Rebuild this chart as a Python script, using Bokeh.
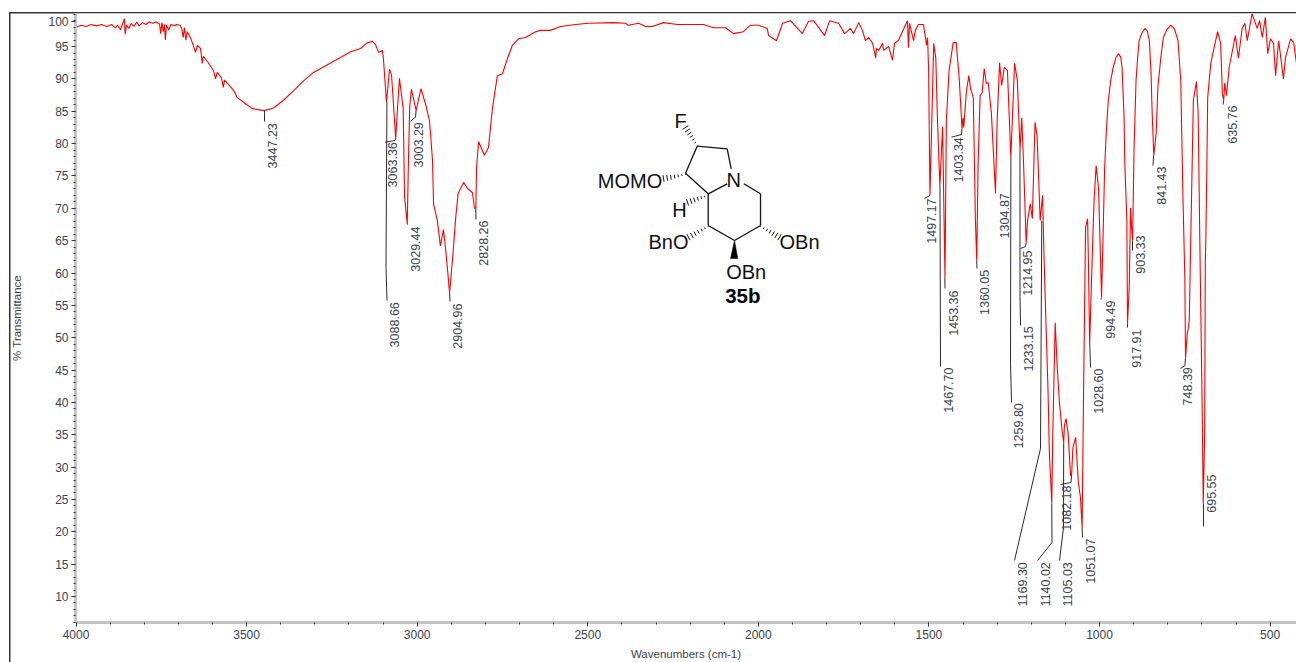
from bokeh.plotting import figure
from bokeh.embed import file_html
from bokeh.resources import INLINE
from bokeh.core.properties import value
from bokeh.models import Range1d, FixedTicker

wavenumber = [
 4000,3985,3970,3955,3940,3925,3910,3895,3885,3878,3870,3865,3858,3856,3852,3845,3838,3830,3822,3815,
 3805,3795,3785,3775,3765,3755,3752,3748,3744,3741,3738,3735,3728,3722,3712,3705,3695,3690,3686,3682,
 3678,3674,3665,3659,3650,3644,3635,3630,3627,3612,3597,3591,3586,3574,3568,3565,3547,3538,3527,3509,
 3483,3449,3421,3392,3362,3333,3304,3263,3225,3195,3166,3146,3131,3122,3113,3102,3099,3090,3081,3075,
 3063,3052,3041,3037,3029,3026,3022,3017,3003,2989,2976,2964,2955,2952,2941,2932,2923,2917,2905,2895,
 2887,2880,2864,2853,2838,2832,2828,2826,2820,2803,2791,2779,2765,2750,2735,2721,2703,2683,2653,2639,
 2609,2580,2536,2498,2425,2390,2381,2351,2331,2311,2278,2237,2205,2161,2132,2096,2073,2044,2023,2000,
 1974,1970,1947,1929,1906,1871,1853,1838,1806,1791,1765,1747,1730,1721,1706,1695,1686,1677,1665,1656,
 1654,1647,1636,1633,1618,1607,1601,1590,1563,1560,1557,1545,1540,1531,1516,1507,1504,1501,1497,1486,
 1480,1475,1468,1460,1453,1449,1441,1429,1420,1411,1403,1400,1398,1390,1383,1378,1370,1364,1360,1356,
 1350,1344,1338,1332,1326,1317,1305,1300,1293,1287,1279,1270,1260,1249,1241,1233,1228,1223,1215,1211,
 1203,1197,1189,1183,1174,1167,1163,1157,1151,1147,1140,1137,1130,1124,1118,1110,1105,1103,1098,1092,
 1085,1082,1078,1075,1070,1062,1056,1051,1047,1041,1035,1032,1029,1020,1016,1010,1003,994,990,985,
 980,975,968,960,952,945,938,934,928,926,920,918,913,909,906,903,899,893,888,884,875,866,860,854,849,846,841,
 834,829,820,813,803,791,780,770,762,756,750,748,743,740,737,734,725,716,711,705,699,696,692,
 690,688,685,683,674,654,645,640,636,633,628,620,602,593,582,574,567,553,538,531,
 523,514,507,499,490,484,475,461,455,440,431,423]
transmittance = [
 98.0,98.3,98.1,98.4,98.2,98.4,98.1,98.4,97.9,98.3,97.6,98.3,99.3,96.9,98.3,97.8,98.6,98.1,98.8,98.2,
 98.7,98.4,98.8,98.6,98.8,98.5,97.0,98.7,97.3,98.4,96.0,98.3,97.6,98.4,98.2,98.4,98.3,97.8,96.4,97.9,
 96.0,97.3,96.4,95.6,94.1,95.2,94.7,92.4,93.5,92.5,91.3,90.0,91.0,90.2,88.7,89.8,88.8,88.2,87.1,86.4,
 85.4,85.1,85.5,86.7,88.2,89.7,91.0,92.2,93.3,94.2,94.7,95.6,95.8,95.3,94.1,94.4,93.2,86.4,91.5,90.5,
 80.8,90.1,85.4,71.7,67.6,76.3,85.6,88.4,85.1,88.5,86.2,83.6,77.4,70.7,68.1,64.2,66.7,63.9,57.0,63.0,
 68.6,72.3,74.0,73.1,72.4,70.0,70.0,76.3,80.3,78.2,79.4,85.6,90.5,90.8,93.2,95.2,96.2,96.4,97.3,97.5,
 97.5,98.1,98.4,98.6,98.7,98.6,98.3,98.6,98.1,98.1,98.7,98.4,98.4,98.4,97.9,97.9,97.0,97.3,98.3,98.3,
 97.8,96.7,95.9,98.6,99.0,97.0,98.9,99.0,96.7,99.0,98.6,97.0,97.8,97.0,98.7,97.5,95.9,96.4,95.5,93.2,
 94.7,94.4,95.5,94.4,95.0,92.9,95.5,95.9,99.0,94.8,98.6,95.9,97.5,98.4,98.4,95.2,96.4,91.3,72.0,95.5,
 93.3,83.6,73.5,82.6,59.2,83.6,91.3,95.6,95.6,89.8,82.3,84.0,82.5,88.2,90.5,88.5,87.1,68.6,61.9,76.9,
 87.4,87.9,91.6,89.3,89.4,84.7,72.4,83.6,92.5,89.0,91.8,91.3,77.9,92.4,89.8,79.2,84.0,77.4,64.7,68.1,
 70.7,68.4,83.3,81.2,68.1,72.0,63.0,52.2,41.8,32.1,24.4,35.2,52.3,45.4,40.3,35.7,33.8,36.4,37.5,35.2,
 28.7,28.7,33.0,33.6,34.6,27.6,25.3,20.7,40.8,67.0,68.4,59.9,49.0,65.0,71.2,76.6,73.2,56.2,65.0,76.3,
 82.0,86.2,89.5,91.8,93.3,93.9,93.4,91.8,84.0,76.9,68.2,52.2,57.8,70.1,67.0,65.0,79.0,89.8,93.5,95.9,97.2,97.8,97.4,95.9,90.8,85.1,78.2,
 81.6,88.7,93.5,96.4,97.6,98.3,97.7,95.9,89.8,72.8,59.3,46.8,50.6,51.4,52.7,61.5,86.7,89.6,84.7,60.9,38.4,24.4,34.9,
 61.6,66.6,78.5,87.1,92.4,97.3,95.5,87.7,86.7,89.4,87.4,91.8,96.7,93.2,97.8,98.6,95.9,100.1,97.8,99.0,
 96.4,99.5,93.9,96.2,95.5,90.5,95.9,90.0,93.3,96.2,95.6,92.5]

peak_labels = ["3447.23","3088.66","3063.36","3029.44","3003.29","2904.96","2828.26","1497.17","1467.70",
 "1453.36","1403.34","1360.05","1304.87","1259.80","1233.15","1214.95","1169.30","1140.02","1105.03",
 "1082.18","1051.07","1028.60","994.49","917.91","903.33","841.43","748.39","695.55","635.76"]
peak_T = [85.1,86.4,80.8,67.6,85.1,57.0,70.0,72.0,73.5,59.2,82.3,61.9,72.4,77.9,79.2,64.7,68.1,24.4,33.8,
 28.7,20.7,49.0,56.2,52.2,65.0,78.2,46.8,24.4,86.7]
x_ticks = [4000,3500,3000,2500,2000,1500,1000,500]
y_ticks = [10,15,20,25,30,35,40,45,50,55,60,65,70,75,80,85,90,95,98.9]

# Layout of the annotations, in page pixels (label centre x, label top y, then leader waypoints)
label_pos = {
 "3447.23":(272,122.7,[(264,121)]), "3088.66":(394,301.7,[(385.5,267),(386.5,300)]),
 "3063.36":(392,141.7,[(394.5,140),(384.5,141.7)]), "3029.44":(415,226,[(407,224)]),
 "3003.29":(417.7,121.7,[(415,116.7),(410,120.7)]), "2904.96":(457.3,303,[(449.5,301)]),
 "2828.26":(483.3,220,[(475.5,219)]), "1497.17":(930.7,198,[(924,198)]),
 "1467.70":(948,367,[(940,366)]), "1453.36":(952.7,290,[(944.5,288)]),
 "1403.34":(958.3,136.7,[(961,134),(951,136.7)]), "1360.05":(984.3,269.3,[(976.5,268)]),
 "1304.87":(1004,192.7,[(995,193)]), "1259.80":(1018.3,402.7,[(1010,362),(1011,402)]),
 "1233.15":(1027.7,325.7,[(1019.5,296),(1020,325)]), "1214.95":(1027.3,250,[(1025,246),(1020,248)]),
 "1169.30":(1021.7,561.7,[(1040,448),(1014,560)]), "1140.02":(1045,561.7,[(1051.5,542),(1037,560)]),
 "1105.03":(1067.3,561.7,[(1063,527),(1059,560)]), "1082.18":(1066,485,[(1070.5,482),(1060,484)]),
 "1051.07":(1090,538,[(1082,537)]), "1028.60":(1098.3,368,[(1090,367)]),
 "994.49":(1109.5,300,[(1100.5,299)]), "917.91":(1135.7,329,[(1127,327)]),
 "903.33":(1140,235,[(1132,250)]), "841.43":(1161,166,[(1152.5,165)]),
 "748.39":(1187.3,366.7,[(1184.5,365),(1180,368)]), "695.55":(1210.7,474,[(1203,526)]),
 "635.76":(1231.7,105,[(1222.5,104)]),
}

def wx(px):
    return 4000 - (px - 75.5) * 2.931
def ty(py):
    return 10 + (596 - py) * 0.15456

font = value("Liberation Sans")
ink = "#39434d"

p = figure(width=1296, height=662, output_backend="svg", toolbar_location=None,
           x_range=Range1d(wx(75), wx(1296)), y_range=Range1d(ty(622), ty(13)),
           min_border_left=75, min_border_right=0, min_border_top=13, min_border_bottom=40,
           frame_width=1221, frame_height=609, background_fill_color="white",
           border_fill_color="white", border_fill_alpha=0)
p.outline_line_color = None
p.grid.visible = False
# the dark window edge of the original screenshot
p.styles = {"background": "linear-gradient(#333,#333) 8.5px 11.5px / 1.5px 100% no-repeat, "
                          "linear-gradient(#333,#333) 8.5px 11.5px / 100% 1.5px no-repeat, white"}

for ax in (p.xaxis[0], p.yaxis[0]):
    ax.axis_line_color = "#c4c4c4"
    ax.axis_line_width = 3
    ax.major_tick_line_color = "#333333"
    ax.minor_tick_line_color = "#333333"
    ax.major_tick_in = 0
    ax.minor_tick_in = 0
    ax.major_tick_out = 4
    ax.minor_tick_out = 2
    ax.major_label_text_font = "Liberation Sans"
    ax.major_label_text_font_size = "12px"
    ax.major_label_text_color = ink
    ax.axis_label_text_font = "Liberation Sans"
    ax.axis_label_text_font_size = "11.5px"
    ax.axis_label_text_font_style = "normal"
    ax.axis_label_text_color = ink
    ax.major_label_standoff = 3

p.xaxis[0].ticker = FixedTicker(ticks=x_ticks, minor_ticks=list(range(500, 4001, 100)))
p.yaxis[0].ticker = FixedTicker(ticks=y_ticks, minor_ticks=list(range(6, 101)))
p.yaxis[0].major_label_overrides = {98.9: "100"}
p.xaxis[0].axis_label = "Wavenumbers (cm-1)"
p.yaxis[0].axis_label = "% Transmittance"
p.xaxis[0].axis_label_standoff = 6
p.yaxis[0].axis_label_standoff = 22

# spectrum trace
p.line(wavenumber, transmittance, line_color="#ff0000", line_width=1.1)

# peak labels and leaders
for name, T in zip(peak_labels, peak_T):
    lx, ltop, way = label_pos[name]
    xs = [float(name)] + [wx(a) for a, _ in way]
    ys = [T] + [ty(b) for _, b in way]
    p.line(xs, ys, line_color="#2a2a2a", line_width=1)
    p.text([wx(lx)], [ty(ltop)], text=[name], angle=1.5708, text_align="right", text_baseline="middle",
           text_font=font, text_font_size="12.5px", text_color=ink)

# structure 35b, page pixels
bonds = [((696.7,145.7),(726.7,148.3)), ((726.7,148.3),(730.7,168.3)), ((696.7,145.7),(685,172.7)),
         ((685,172.7),(707.7,193.3)), ((707.7,193.3),(726.7,183.3)), ((707.7,193.3),(707.7,225)),
         ((707.7,225),(734,240)), ((734,240),(760,225)), ((760,225),(760,193.3)), ((760,193.3),(743.3,183.3))]
hashes = [((696.7,145),(685,127)), ((685,174),(663,178)), ((707.7,195),(687,201.7)),
          ((707.7,226),(688,236.7)), ((760,226),(779,236.7))]
atom_text = [("F",680,120,"center"), ("N",733.3,179.3,"center"), ("MOMO",661.7,180.7,"right"), ("H",679,209.3,"center"),
             ("BnO",688,241.7,"right"), ("OBn",779,241.7,"left"), ("OBn",725.7,271.7,"left")]

p.segment([wx(a[0]) for a, b in bonds], [ty(a[1]) for a, b in bonds],
          [wx(b[0]) for a, b in bonds], [ty(b[1]) for a, b in bonds], line_color="#111111", line_width=1.3)
sx0, sy0, sx1, sy1 = [], [], [], []
for (a, b) in hashes:
    dx, dy = b[0] - a[0], b[1] - a[1]
    length = (dx * dx + dy * dy) ** 0.5
    nx, ny = -dy / length, dx / length
    n = 7
    for i in range(n):
        f = i / (n - 1)
        cx, cy = a[0] + dx * f, a[1] + dy * f
        half = 0.4 + 3.0 * f
        sx0.append(wx(cx - nx * half)); sy0.append(ty(cy - ny * half))
        sx1.append(wx(cx + nx * half)); sy1.append(ty(cy + ny * half))
p.segment(sx0, sy0, sx1, sy1, line_color="#111111", line_width=1)
p.patch([wx(734), wx(730), wx(737.3)], [ty(240), ty(258), ty(258)], fill_color="#000000", line_color="#000000", line_width=0.5)
for t, x, y, al in atom_text:
    p.text([wx(x)], [ty(y)], text=[t], text_align=al, text_baseline="middle", text_font=font,
           text_font_size="20px", text_color="#111111")
p.text([wx(742.3)], [ty(295)], text=["35b"], text_align="center", text_baseline="middle", text_font=font,
       text_font_size="20.5px", text_font_style="bold", text_color="#000000")

open("out.html", "w").write(file_html(p, INLINE))
